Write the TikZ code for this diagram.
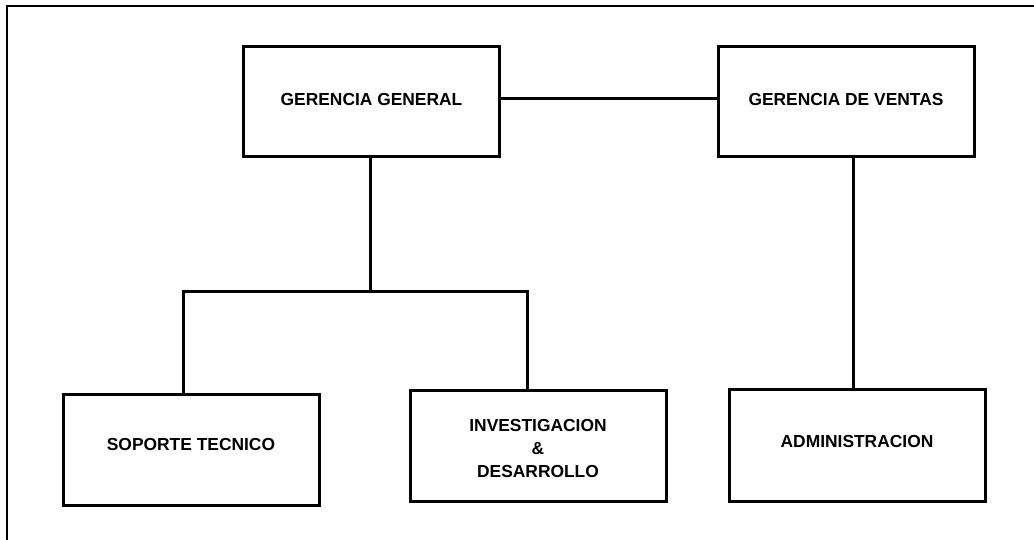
\documentclass[tikz,border=0pt]{standalone}
\usepackage{fontspec}
\setmainfont{Liberation Sans}
\begin{document}
\begin{tikzpicture}[x=1pt,y=-1pt,
  box/.style={draw, line width=3pt, minimum width=256pt, minimum height=110pt, inner sep=0pt, align=center,
    font=\bfseries\fontsize{17.4}{23}\selectfont},
  up/.style={text height=12.5pt, text depth=#1},
  conn/.style={line width=3pt}]
\useasboundingbox (0,0) rectangle (1034,540);
\draw[line width=2pt] (7,545) -- (7,6) -- (1040,6);
\node[box, up=5.4pt] (GG) at (371.5,102) {GERENCIA GENERAL};
\node[box, up=4.6pt] (GV) at (846,102) {GERENCIA DE VENTAS};
\node[box, up=10pt, minimum height=111pt] (ST) at (191,449.5) {SOPORTE TECNICO};
\node[box, minimum height=111pt, text height=40pt, text depth=22.5pt] (ID) at (538,445.5)
  {\begin{tabular}{@{}c@{}}INVESTIGACION\\\&\\DESARROLLO\end{tabular}};
\node[box, up=6.6pt, minimum height=112pt] (AD) at (857,445) {ADMINISTRACION};
\coordinate (J) at (370,292);
\draw[conn] ([yshift=3pt]GG.east) -- ([yshift=3pt]GV.west);
\draw[conn] ([xshift=-1.5pt]GG.south) -- (J);
\draw[conn] ([xshift=-8pt]ST.north) |- (J) -| ([xshift=-11pt]ID.north);
\draw[conn] ([xshift=7pt]GV.south) -- ([xshift=-4pt]AD.north);
\end{tikzpicture}
\end{document}
